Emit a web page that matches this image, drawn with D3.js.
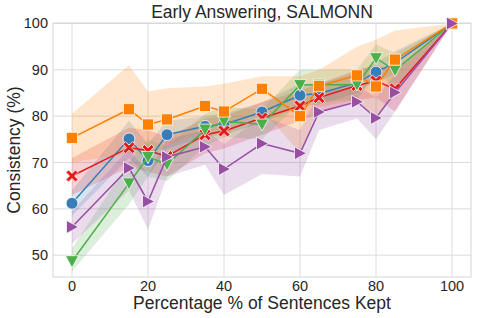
<!DOCTYPE html>
<html><head><meta charset="utf-8">
<script src="https://cdn.jsdelivr.net/npm/d3@7"></script>
<style>
body{margin:0;background:#fff;}
text{font-family:"Liberation Sans",Arial,sans-serif;fill:#262626;}
</style></head>
<body><svg id="c" width="477" height="318"></svg>
<script>
const xs = [0,15,20,25,35,40,50,60,65,75,80,85,100];
const xTicks = [0,20,40,60,80,100];
const yTicks = [50,60,70,80,90,100];

const blue     = [61.2,75.1,70.4,76.0,77.8,78.2,80.9,84.5,84.9,87.2,89.5,91.5,100];
const blueLo   = [58.5,71.0,67.0,73.0,75.5,76.0,78.5,82.0,82.5,85.0,87.5,89.0,100];
const blueHi   = [64.0,79.0,74.0,79.0,80.0,80.5,83.0,87.0,87.0,89.5,91.5,94.0,100];

const red      = [67.1,73.2,72.6,71.3,76.0,76.8,79.6,82.2,84.0,86.6,87.6,85.9,100];
const redLo    = [63.0,69.0,68.0,67.0,72.0,73.0,76.0,79.0,80.5,83.5,84.0,81.0,100];
const redHi    = [71.0,77.5,77.0,75.5,79.5,80.0,83.0,85.5,87.0,90.0,91.0,90.0,100];

const green    = [48.7,65.5,71.2,69.6,77.1,78.9,78.2,86.7,86.8,86.8,92.5,89.9,100];
const greenLo  = [46.5,61.0,67.0,66.0,73.5,75.5,75.0,83.0,83.0,83.5,89.5,86.0,100];
const greenHi  = [51.5,70.0,75.0,73.5,80.5,82.0,81.5,90.0,90.0,90.0,95.5,93.5,100];

const orange   = [75.3,81.5,78.2,79.3,82.2,81.0,85.9,80.0,86.5,88.8,86.4,92.2,100];
const orangeLo = [70.0,72.0,72.0,73.5,77.0,75.5,81.5,72.0,82.0,83.5,79.5,86.0,100];
const orangeHi = [80.5,91.0,85.3,86.0,86.4,87.0,88.6,88.6,90.0,95.0,96.5,98.5,100];

const purple   = [56.1,68.8,61.6,71.2,73.4,68.6,74.1,72.0,80.9,83.1,79.6,85.1,100];
const purpleLo = [52.5,64.0,55.5,67.0,69.5,63.0,67.5,67.0,77.0,79.5,75.0,81.0,100];
const purpleHi = [59.5,73.0,67.5,75.0,77.0,74.0,80.0,77.0,85.0,86.5,84.0,89.0,100];

const series = [
  {v:blue, lo:blueLo, hi:blueHi, color:"#377eb8", m:"circle"},
  {v:red, lo:redLo, hi:redHi, color:"#e41a1c", m:"x"},
  {v:green, lo:greenLo, hi:greenHi, color:"#4daf4a", m:"tridown"},
  {v:orange, lo:orangeLo, hi:orangeHi, color:"#ff7f00", m:"square"},
  {v:purple, lo:purpleLo, hi:purpleHi, color:"#984ea3", m:"triright"}
];

const L=53, R=471, T=23, B=277;
const x = d3.scaleLinear().domain([-5,105]).range([L,R]);
const y = d3.scaleLinear().domain([45.3,100.1]).range([B,T]);
const svg = d3.select("#c");

// grid
svg.append("g").selectAll("line").data(xTicks).join("line")
  .attr("x1",d=>x(d)).attr("x2",d=>x(d)).attr("y1",T).attr("y2",B)
  .attr("stroke","#dcdcdc").attr("stroke-width",1);
svg.append("g").selectAll("line").data(yTicks).join("line")
  .attr("y1",d=>y(d)).attr("y2",d=>y(d)).attr("x1",L).attr("x2",R)
  .attr("stroke","#dcdcdc").attr("stroke-width",1);
svg.append("rect").attr("x",L).attr("y",T).attr("width",R-L).attr("height",B-T)
  .attr("fill","none").attr("stroke","#d6d6d6").attr("stroke-width",1);

// bands
const area = d3.area().x((d,i)=>x(xs[i])).y0(d=>y(d[0])).y1(d=>y(d[1]));
series.forEach(s=>{
  svg.append("path").datum(s.lo.map((l,i)=>[l,s.hi[i]]))
    .attr("d",area).attr("fill",s.color).attr("fill-opacity",0.2);
});

const line = d3.line().x((d,i)=>x(xs[i])).y(d=>y(d));
const sym = {
  circle: d3.symbol().type(d3.symbolCircle).size(110)(),
  square: d3.symbol().type(d3.symbolSquare).size(125)(),
  tridown: "M-6.5,-5.5L6.5,-5.5L0,6.5Z",
  triright: "M-5.5,-6.5L-5.5,6.5L6.5,0Z",
  x: "M-6,-3.5L-3.5,-6L0,-2.5L3.5,-6L6,-3.5L2.5,0L6,3.5L3.5,6L0,2.5L-3.5,6L-6,3.5L-2.5,0Z"
};
series.forEach(s=>{
  const g = svg.append("g");
  g.append("path").datum(s.v).attr("d",line).attr("fill","none")
    .attr("stroke",s.color).attr("stroke-width",1.5);
  g.selectAll("path.m").data(s.v).join("path").attr("class","m")
    .attr("d",sym[s.m])
    .attr("transform",(d,i)=>`translate(${x(xs[i])},${y(d)})`)
    .attr("fill",s.color).attr("stroke","#fff").attr("stroke-width",0.75);
});

// ticks
svg.append("g").selectAll("text").data(xTicks).join("text")
  .attr("x",d=>x(d)).attr("y",291).attr("text-anchor","middle")
  .attr("font-size",14.5).text(d=>d);
svg.append("g").selectAll("text").data(yTicks).join("text")
  .attr("x",48).attr("y",d=>y(d)+5).attr("text-anchor","end")
  .attr("font-size",14.5).text(d=>d);

svg.append("text").attr("x",(L+R)/2).attr("y",18).attr("text-anchor","middle")
  .attr("font-size",17.5).text("Early Answering, SALMONN");
svg.append("text").attr("x",(L+R)/2).attr("y",309).attr("text-anchor","middle")
  .attr("font-size",17.5).text("Percentage % of Sentences Kept");
svg.append("text").attr("transform","translate(20,150) rotate(-90)").attr("text-anchor","middle")
  .attr("font-size",17.5).text("Consistency (%)");
</script></body></html>
